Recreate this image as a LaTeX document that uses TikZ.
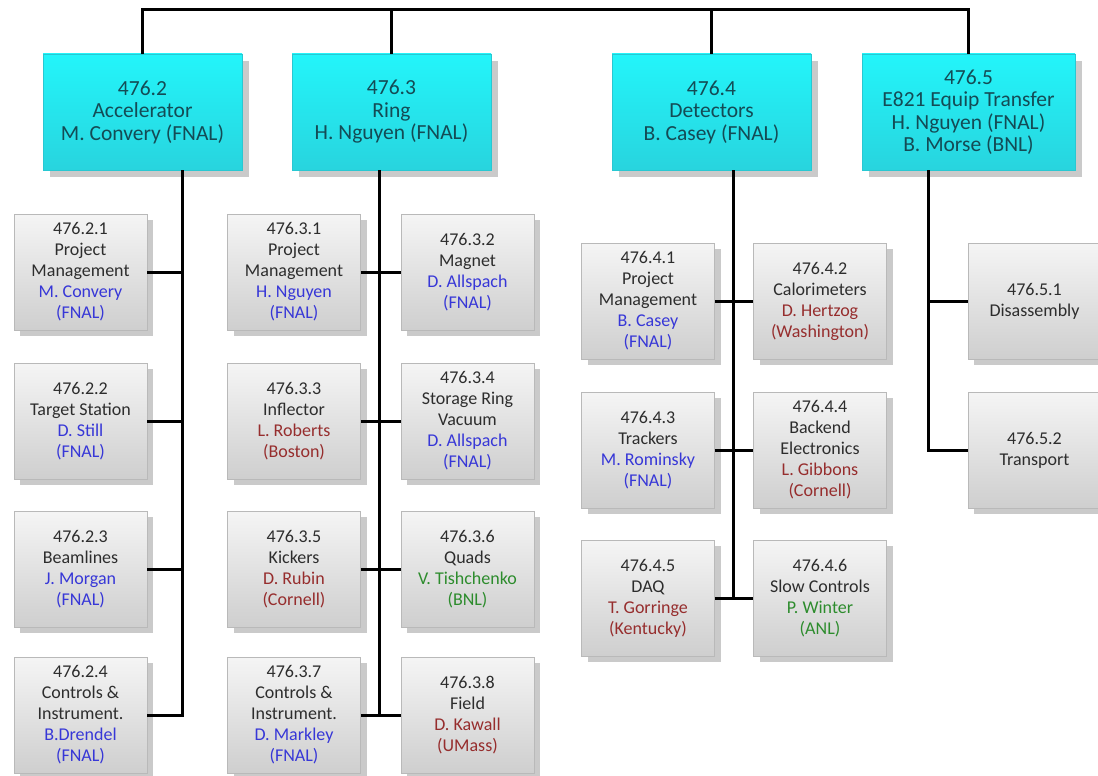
\documentclass[tikz,border=0pt]{standalone}
\usepackage{fontspec}
\setmainfont{Carlito}
\usetikzlibrary{shadows}
\definecolor{pblue}{RGB}{55,55,215}
\definecolor{pred}{RGB}{150,45,45}
\definecolor{pgreen}{RGB}{45,140,45}
\definecolor{txt}{RGB}{45,45,45}
\definecolor{htxt}{RGB}{20,75,85}
\definecolor{cyantop}{RGB}{35,245,250}
\definecolor{cyanbot}{RGB}{40,212,222}
\definecolor{cyanline}{RGB}{40,200,210}
\newcommand\inB[1]{\textcolor{pblue}{#1}}
\newcommand\inR[1]{\textcolor{pred}{#1}}
\newcommand\inG[1]{\textcolor{pgreen}{#1}}
\begin{document}
\begin{tikzpicture}[x=1pt,y=-1pt,
  conn/.style={line width=3pt, black},
  sub/.style={draw=gray!55, line width=0.8pt, top color=gray!8, bottom color=gray!38,
    minimum width=133pt, minimum height=116pt, align=center, inner sep=0pt,
    font=\fontsize{18}{21}\selectfont, text=txt,
    drop shadow={shadow xshift=6pt, shadow yshift=-6pt, fill=gray!70, opacity=0.6}},
  hdr/.style={draw=cyanline, line width=0.8pt, top color=cyantop, bottom color=cyanbot,
    minimum width=199pt, minimum height=116pt, align=center, inner sep=0pt,
    font=\fontsize{21.5}{22.5}\selectfont, text=htxt,
    drop shadow={shadow xshift=7pt, shadow yshift=-7pt, fill=gray!70, opacity=0.6}}]
\useasboundingbox (0,0) rectangle (1098,776);

% headers
\node[hdr] (h2) at (142.5,112) {476.2\\Accelerator\\M. Convery (FNAL)};
\node[hdr] (h3) at (391.5,112) {476.3\\Ring\\H. Nguyen (FNAL)};
\node[hdr] (h4) at (711.5,112) {476.4\\Detectors\\B. Casey (FNAL)};
\node[hdr, minimum width=213pt] (h5) at (968.5,112) {476.5\\E821 Equip Transfer\\H. Nguyen (FNAL)\\B. Morse (BNL)};

% 476.2 column
\node[sub] (s21) at (80.5,272) {476.2.1\\Project\\Management\\\inB{M. Convery}\\\inB{(FNAL)}};
\node[sub] (s22) at (80.5,421) {476.2.2\\Target Station\\\inB{D. Still}\\\inB{(FNAL)}};
\node[sub] (s23) at (80.5,569) {476.2.3\\Beamlines\\\inB{J. Morgan}\\\inB{(FNAL)}};
\node[sub] (s24) at (80.5,715) {476.2.4\\Controls \&\\Instrument.\\\inB{B.Drendel}\\\inB{(FNAL)}};

% 476.3 column
\node[sub] (s31) at (294,272) {476.3.1\\Project\\Management\\\inB{H. Nguyen}\\\inB{(FNAL)}};
\node[sub] (s32) at (467.5,272) {476.3.2\\Magnet\\\inB{D. Allspach}\\\inB{(FNAL)}};
\node[sub] (s33) at (294,421) {476.3.3\\Inflector\\\inR{L. Roberts}\\\inR{(Boston)}};
\node[sub] (s34) at (467.5,421) {476.3.4\\Storage Ring\\Vacuum\\\inB{D. Allspach}\\\inB{(FNAL)}};
\node[sub] (s35) at (294,569) {476.3.5\\Kickers\\\inR{D. Rubin}\\\inR{(Cornell)}};
\node[sub] (s36) at (467.5,569) {476.3.6\\Quads\\\inG{V. Tishchenko}\\\inG{(BNL)}};
\node[sub] (s37) at (294,715) {476.3.7\\Controls \&\\Instrument.\\\inB{D. Markley}\\\inB{(FNAL)}};
\node[sub] (s38) at (467.5,715) {476.3.8\\Field\\\inR{D. Kawall}\\\inR{(UMass)}};

% 476.4 column
\node[sub] (s41) at (648,301) {476.4.1\\Project\\Management\\\inB{B. Casey}\\\inB{(FNAL)}};
\node[sub] (s42) at (820,301) {476.4.2\\Calorimeters\\\inR{D. Hertzog}\\\inR{(Washington)}};
\node[sub] (s43) at (648,450) {476.4.3\\Trackers\\\inB{M. Rominsky}\\\inB{(FNAL)}};
\node[sub] (s44) at (820,450) {476.4.4\\Backend\\Electronics\\\inR{L. Gibbons}\\\inR{(Cornell)}};
\node[sub] (s45) at (648,598) {476.4.5\\DAQ\\\inR{T. Gorringe}\\\inR{(Kentucky)}};
\node[sub] (s46) at (820,598) {476.4.6\\Slow Controls\\\inG{P. Winter}\\\inG{(ANL)}};

% 476.5 column
\node[sub] (s51) at (1034.5,301) {476.5.1\\Disassembly};
\node[sub] (s52) at (1034.5,450) {476.5.2\\Transport};

% spines
\coordinate (top) at (0,10);
\coordinate (sp2) at (182,0);
\coordinate (sp3) at (379,0);
\coordinate (sp4) at (733,0);
\coordinate (sp5) at (928,0);

% top bus
\draw[conn] (h2.north) -- (h2.north |- top) -- (h5.north |- top) -- (h5.north);
\draw[conn] (h3.north) -- (h3.north |- top);
\draw[conn] (h4.north) -- (h4.north |- top);

% 476.2
\draw[conn] (h2.south -| sp2) |- (s24.east);
\foreach \s in {s21,s22,s23} \draw[conn] (\s.east) -- (\s.east -| sp2);

% 476.3
\draw[conn] (h3.south -| sp3) -- (s37.east -| sp3);
\draw[conn] (s31.east) -- (s32.west);
\draw[conn] (s33.east) -- (s34.west);
\draw[conn] (s35.east) -- (s36.west);
\draw[conn] (s37.east) -- (s38.west);

% 476.4
\draw[conn] (h4.south -| sp4) -- (s45.east -| sp4);
\draw[conn] (s41.east) -- (s42.west);
\draw[conn] (s43.east) -- (s44.west);
\draw[conn] (s45.east) -- (s46.west);

% 476.5
\draw[conn] (h5.south -| sp5) |- (s52.west);
\draw[conn] (s51.west) -- (s51.west -| sp5);
\end{tikzpicture}
\end{document}
